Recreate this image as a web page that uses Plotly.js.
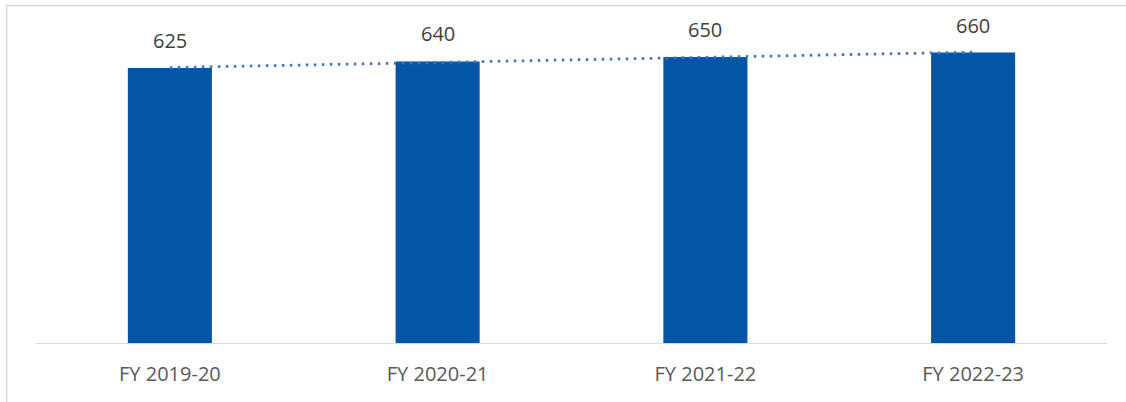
<!DOCTYPE html>
<html>
<head>
<meta charset="utf-8">
<script src="https://cdn.plot.ly/plotly-3.0.1.min.js"></script>
<style>html,body{margin:0;padding:0;background:#fff;}#chart{width:1126px;height:402px;}</style>
</head>
<body>
<div id="chart"></div>
<script>
// Data
const categories = ["FY 2019-20", "FY 2020-21", "FY 2021-22", "FY 2022-23"];
const values = [625, 640, 650, 660];
const valueLabels = ["625", "640", "650", "660"];
// Linear trendline endpoints (first and last category)
const trendCategories = ["FY 2019-20", "FY 2022-23"];
const trendValues = [626, 661];

const FONT = "Open Sans, Noto Sans, sans-serif";

const barTrace = {
  type: "bar",
  x: categories,
  y: values,
  marker: {color: "#0355A5", line: {width: 0}},
  hoverinfo: "x+y",
  showlegend: false
};

const trendTrace = {
  type: "scatter",
  mode: "lines",
  x: trendCategories,
  y: trendValues,
  line: {color: "#4472C4", width: 2.75, dash: "2.5px,5.5px"},
  hoverinfo: "skip",
  showlegend: false
};

const annotations = categories.map((c, i) => ({
  x: c, y: values[i], xref: "x", yref: "y",
  text: valueLabels[i], showarrow: false,
  yanchor: "bottom", yshift: 12,
  font: {family: FONT, size: 20, color: "#404040"}
}));

const layout = {
  width: 1126, height: 402,
  margin: {l: 36, r: 19, t: 35, b: 59, pad: 0},
  paper_bgcolor: "#ffffff",
  plot_bgcolor: "#ffffff",
  bargap: 0.686,
  xaxis: {
    type: "category",
    showgrid: false,
    zeroline: false,
    showline: true,
    linecolor: "#d9d9d9",
    linewidth: 1.3,
    ticks: "",
    ticklabelstandoff: 13,
    tickfont: {family: FONT, size: 20, color: "#595959"},
    fixedrange: true
  },
  yaxis: {
    range: [0, 700],
    visible: false,
    showgrid: false,
    zeroline: false,
    fixedrange: true
  },
  annotations: annotations,
  shapes: [{
    type: "rect", xref: "paper", yref: "paper",
    x0: -0.0275, x1: 1.5, y0: -0.5, y1: 1.095,
    line: {color: "#d9d9d9", width: 1.5},
    fillcolor: "rgba(0,0,0,0)",
    layer: "below"
  }]
};

Plotly.newPlot("chart", [barTrace, trendTrace], layout, {displayModeBar: false, staticPlot: true});
</script>
</body>
</html>
